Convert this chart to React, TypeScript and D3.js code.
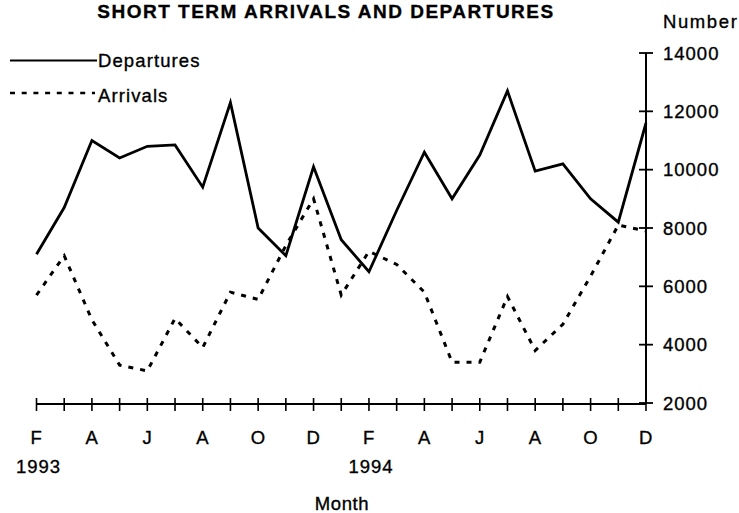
import * as d3 from 'd3'
import React from 'react'

const months = ['F', 'M', 'A', 'M', 'J', 'J', 'A', 'S', 'O', 'N', 'D', 'J', 'F', 'M', 'A', 'M', 'J', 'J', 'A', 'S', 'O', 'N', 'D']
const years = [{ index: 0, label: '1993' }, { index: 12, label: '1994' }]
const departures = [7100, 8700, 11000, 10400, 10800, 10850, 9400, 12300, 8000, 7050, 10100, 7600, 6500, 8600, 10600, 9000, 10500, 12700, 9950, 10200, 9000, 8200, 11600]
const arrivals = [5700, 7050, 4850, 3300, 3100, 4900, 3900, 5800, 5550, 7400, 9000, 5700, 7200, 6750, 5800, 3400, 3400, 5650, 3800, 4700, 6350, 8100, 7900]
const yTicks = [2000, 4000, 6000, 8000, 10000, 12000, 14000]

const W = 739
const H = 513
const font = 'Arial, "Liberation Sans", sans-serif'

const App = () => {
  const x = d3.scaleLinear().domain([0, months.length - 1]).range([36.5, 646])
  const y = d3.scaleLinear().domain([2000, 14000]).range([403, 53])
  const axisY = y(2000) + 1

  const line = d3.line<number>()
    .x((d, i) => x(i))
    .y(d => y(d))

  // scanned text looks a bit heavier than plain Arial
  const ink = { fill: '#000', stroke: '#000', strokeWidth: 0.35 }

  return (
    <svg width={W} height={H} style={{ position: 'absolute', left: 0, top: 0, background: '#fff' }}
      fontFamily={font}>
      {/* title */}
      <text x={326} y={18} textAnchor="middle" fontSize={19} fontWeight="bold" letterSpacing={1.5} {...ink}>
        SHORT TERM ARRIVALS AND DEPARTURES
      </text>

      {/* legend */}
      <line x1={10} x2={97} y1={60.5} y2={60.5} stroke="#000" strokeWidth={2.2} />
      <text x={98} y={67} fontSize={18.5} letterSpacing={1.1} {...ink}>Departures</text>
      <line x1={10} x2={95} y1={93} y2={93} stroke="#000" strokeWidth={2.6} strokeDasharray="5 6.7" />
      <text x={98} y={102} fontSize={18.5} letterSpacing={1.1} {...ink}>Arrivals</text>

      {/* y axis (right) */}
      <text x={663} y={28} fontSize={18.5} letterSpacing={1.6} {...ink}>Number</text>
      <line x1={646} x2={646} y1={y(14000)} y2={axisY} stroke="#000" strokeWidth={2} />
      {yTicks.map(t => (
        <g key={t}>
          <line x1={639} x2={653} y1={y(t)} y2={y(t)} stroke="#000" strokeWidth={1.8} />
          <text x={663} y={y(t) + 6.5} fontSize={18.5} letterSpacing={1} {...ink}>{t}</text>
        </g>
      ))}

      {/* x axis */}
      <line x1={x(0)} x2={x(months.length - 1)} y1={axisY} y2={axisY} stroke="#000" strokeWidth={1.8} />
      {months.map((m, i) => (
        <g key={i}>
          <line x1={x(i)} x2={x(i)} y1={axisY - 6} y2={axisY + 7} stroke="#000" strokeWidth={1.6} />
          {i % 2 === 0 && (
            <text x={x(i)} y={444} textAnchor="middle" fontSize={18.5} letterSpacing={0.5} {...ink}>{m}</text>
          )}
        </g>
      ))}
      {years.map(yr => (
        <text key={yr.label} x={x(yr.index) + 2} y={473} textAnchor="middle" fontSize={18.5} letterSpacing={1} {...ink}>
          {yr.label}
        </text>
      ))}
      <text x={342} y={510} textAnchor="middle" fontSize={18.5} letterSpacing={0.6} {...ink}>Month</text>

      {/* series */}
      <path d={line(departures) || ''} fill="none" stroke="#000" strokeWidth={2.8} strokeLinejoin="miter" />
      <path d={line(arrivals) || ''} fill="none" stroke="#000" strokeWidth={3} strokeDasharray="5 7" />
    </svg>
  )
}

export default App
